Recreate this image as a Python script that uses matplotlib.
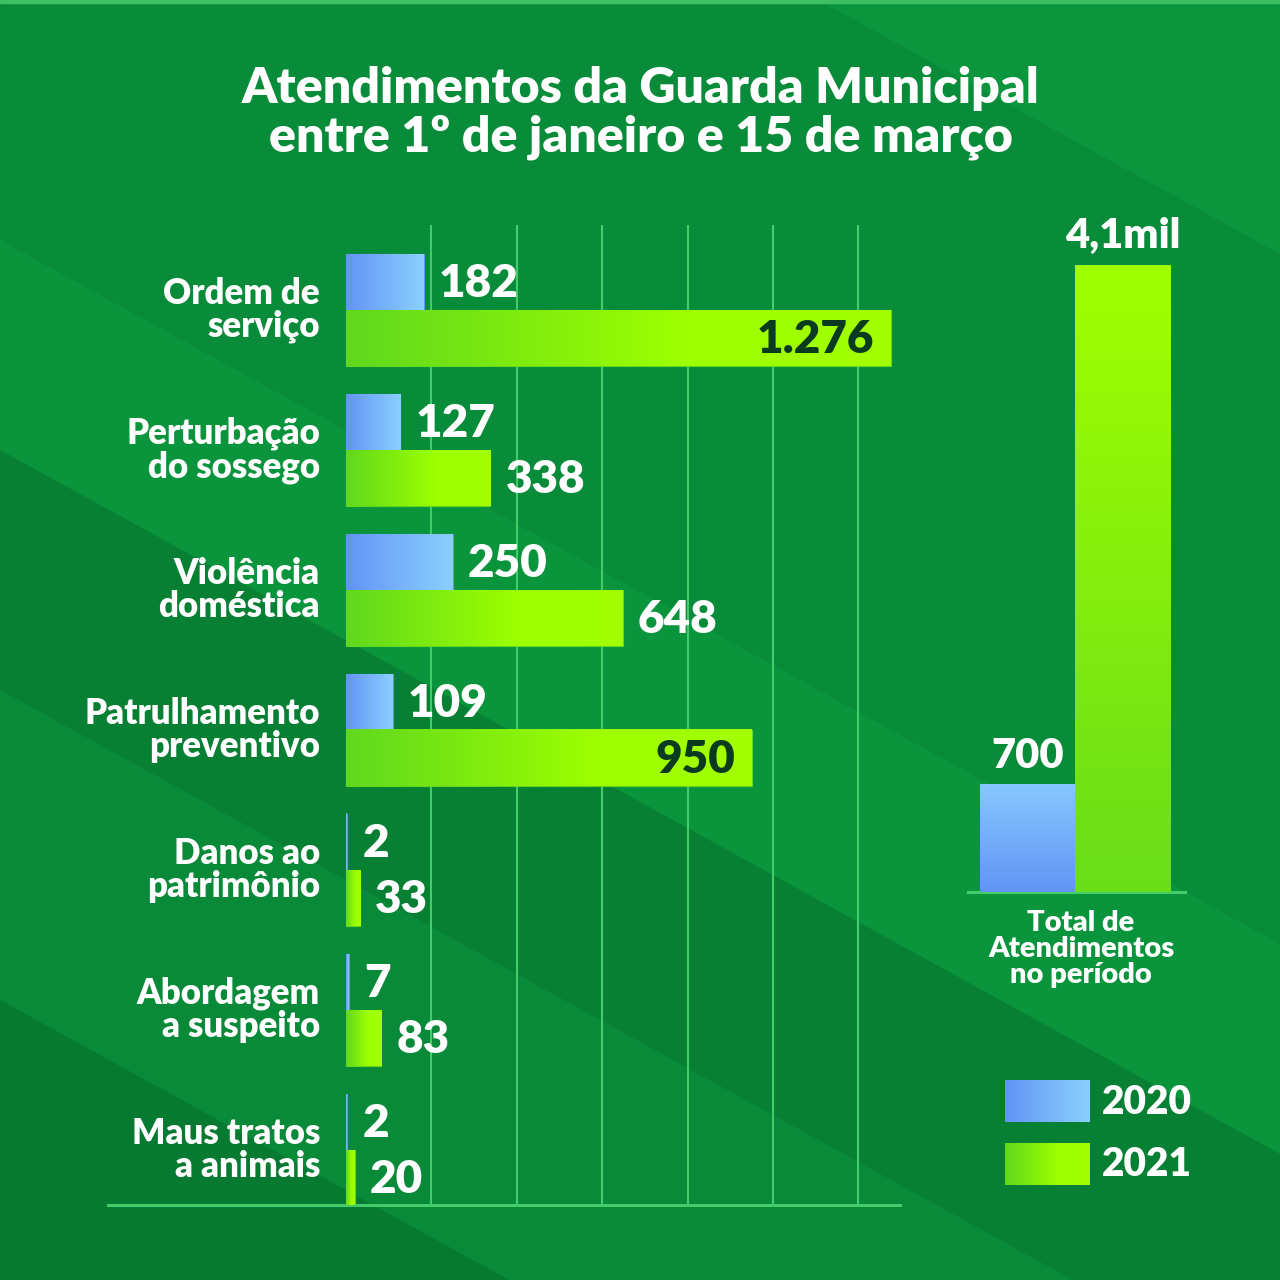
import numpy as np
import matplotlib
matplotlib.use("Agg")
import matplotlib.pyplot as plt
from matplotlib.colors import LinearSegmentedColormap
from matplotlib.patches import Polygon

# ---------------- data ----------------
categories = ["Ordem de\nserviço", "Perturbação\ndo sossego", "Violência\ndoméstica",
              "Patrulhamento\npreventivo", "Danos ao\npatrimônio", "Abordagem\na suspeito",
              "Maus tratos\na animais"]
values_2020 = [182, 127, 250, 109, 2, 7, 2]
values_2021 = [1276, 338, 648, 950, 33, 83, 20]
labels_2020 = ["182", "127", "250", "109", "2", "7", "2"]
labels_2021 = ["1.276", "338", "648", "950", "33", "83", "20"]
total_years = ["2020", "2021"]
total_values = [700, 4100]
total_labels = ["700", "4,1mil"]
title_lines = ["Atendimentos da Guarda Municipal", "entre 1º de janeiro e 15 de março"]
total_caption = "Total de\nAtendimentos\nno período"
grid_ticks = [200, 400, 600, 800, 1000, 1200]

# ---------------- style ----------------
FONT = ["Lato", "Open Sans", "DejaVu Sans"]
WEIGHT = 800
W = H = 1280
BLUE_L, BLUE_R = "#6394f5", "#8ad0ff"
GREEN_L, GREEN_M, GREEN_R = "#60d81e", "#9dff00", "#a2ff00"
GRID = "#45cc6a"
WHITE = "white"
DARK = "#0b3b1f"

blue_cmap = LinearSegmentedColormap.from_list("b", [BLUE_L, BLUE_R])
green_cmap = LinearSegmentedColormap.from_list("g", [(0, GREEN_L), (0.62, GREEN_M), (1, GREEN_R)])

fig = plt.figure(figsize=(12.8, 12.8), dpi=100)


def rect(left, top, right, bottom):
    return [left / W, 1 - bottom / H, (right - left) / W, (bottom - top) / H]


# ---------------- background ----------------
bg = fig.add_axes([0, 0, 1, 1], zorder=0)
bg.set_xlim(0, W)
bg.set_ylim(H, 0)
bg.axis("off")
bg.add_patch(plt.Rectangle((0, 0), W, H, color="#098c39", zorder=0))
slope = 0.55
bands = [(-2000, -450, "#0b963d"), (240, 450, "#0a953c"), (450, 690, "#078034"),
         (690, 1000, "#088a38"), (1000, 3000, "#067a31")]
for c1, c2, col in bands:
    poly = [(0, c1), (W, c1 + slope * W), (W, c2 + slope * W), (0, c2)]
    bg.add_patch(Polygon(poly, closed=True, color=col, lw=0, zorder=1))
bg.add_patch(plt.Rectangle((0, 0), W, 3, color="#3fbf63", zorder=2))

# ---------------- title ----------------
fig.text(641 / W, 1 - 103 / H, title_lines[0], ha="center", va="baseline", color=WHITE,
         fontsize=36, fontweight=WEIGHT, family=FONT)
fig.text(641 / W, 1 - 152 / H, title_lines[1], ha="center", va="baseline", color=WHITE,
         fontsize=36, fontweight=WEIGHT, family=FONT)

# ---------------- left panel: horizontal bars ----------------
ax = fig.add_axes(rect(108, 225, 900, 1205), zorder=2)
ax.patch.set_alpha(0)
px_per_unit = 0.427
x_left = -(346 - 108) / px_per_unit
x_right = (900 - 346) / px_per_unit
n = len(categories)
row_px = 140
y_top = -(310 - 225) / row_px
y_bot = (1205 - 310) / row_px
bar_h = 56 / row_px

for t in grid_ticks:
    ax.axvline(t, color=GRID, lw=1.5, zorder=1)

grad = np.linspace(0, 1, 256).reshape(1, -1)
for i in range(n):
    for val, lab, cmap, yc, base in [
        (values_2020[i], labels_2020[i], blue_cmap, i - bar_h / 2, BLUE_L),
        (values_2021[i], labels_2021[i], green_cmap, i + bar_h / 2, GREEN_L)]:
        y0, y1 = yc - bar_h / 2, yc + bar_h / 2
        ax.barh(yc, val, height=bar_h, color=base, edgecolor=base, lw=0.8, zorder=2)
        ax.imshow(grad, cmap=cmap, extent=(0, val, y1, y0), aspect="auto",
                  interpolation="bilinear", zorder=3)
        if val >= 900:
            ax.annotate(lab, (val, yc), xytext=(-12, -1), textcoords="offset points",
                        ha="right", va="center", color=DARK, fontsize=33,
                        fontweight=WEIGHT, family=FONT, zorder=5)
        else:
            ax.annotate(lab, (val, yc), xytext=(11, -1), textcoords="offset points",
                        ha="left", va="center", color=WHITE, fontsize=33,
                        fontweight=WEIGHT, family=FONT, zorder=5)
    ax.text(-(346 - 320) / px_per_unit, i, categories[i], ha="right", va="center",
            multialignment="right", color=WHITE, fontsize=25, fontweight=WEIGHT,
            family=FONT, linespacing=1.0, zorder=5)

ax.set_xlim(x_left, x_right)
ax.set_ylim(y_bot, y_top)
for s in ["top", "left", "right"]:
    ax.spines[s].set_visible(False)
ax.spines["bottom"].set_color(GRID)
ax.spines["bottom"].set_linewidth(2.2)
ax.set_xticks([])
ax.set_yticks([])

# ---------------- right panel: totals ----------------
ax2 = fig.add_axes(rect(968, 200, 1185, 892), zorder=2)
ax2.patch.set_alpha(0)
t_scale = 627 / 4100  # px per unit
ax2_top = (892 - 200) / t_scale
x_scale = 95.5  # px per category unit
vgrad = np.linspace(0, 1, 256).reshape(-1, 1)
vcmaps = [LinearSegmentedColormap.from_list("vb", [BLUE_L, "#86c8ff"]),
          LinearSegmentedColormap.from_list("vg", ["#6add1a", "#a0ff00"])]
for j, (val, lab) in enumerate(zip(total_values, total_labels)):
    ax2.bar(j, val, width=1.0, color=vcmaps[j](0.0), lw=0, zorder=2)
    ax2.imshow(vgrad, cmap=vcmaps[j], origin="lower", extent=(j - 0.5, j + 0.5, 0, val),
               aspect="auto", interpolation="bilinear", zorder=3)
    ax2.annotate(lab, (j, val), xytext=(0, 12), textcoords="offset points",
                 ha="center", va="baseline", color=WHITE, fontsize=30,
                 fontweight=WEIGHT, family=FONT, zorder=5)
ax2.set_xlim(-(1027.5 - 968) / x_scale, (1185 - 1027.5) / x_scale)
ax2.set_ylim(0, ax2_top)
for s in ["top", "left", "right"]:
    ax2.spines[s].set_visible(False)
ax2.spines["bottom"].set_color(GRID)
ax2.spines["bottom"].set_linewidth(2.2)
ax2.set_xticks([])
ax2.set_yticks([])

fig.text(1081 / W, 1 - 910 / H, total_caption, ha="center", va="top", color=WHITE,
         fontsize=21, fontweight=WEIGHT, family=FONT, linespacing=1.0)

# ---------------- legend ----------------
axl = fig.add_axes(rect(1000, 1070, 1200, 1195), zorder=2)
hgrad = np.linspace(0, 1, 256).reshape(1, -1)
for k, (yr, cmap) in enumerate(zip(total_years, [blue_cmap, green_cmap])):
    y0 = 1080 + k * 63
    axl.imshow(hgrad, cmap=cmap, extent=(1005, 1090, y0 + 42, y0), aspect="auto",
               interpolation="bilinear")
    axl.text(1102, y0 + 22, yr, ha="left", va="center", color=WHITE, fontsize=28,
             fontweight=WEIGHT, family=FONT)
axl.set_xlim(1000, 1200)
axl.set_ylim(1195, 1070)
axl.axis("off")

fig.savefig("out.png", dpi=100)
